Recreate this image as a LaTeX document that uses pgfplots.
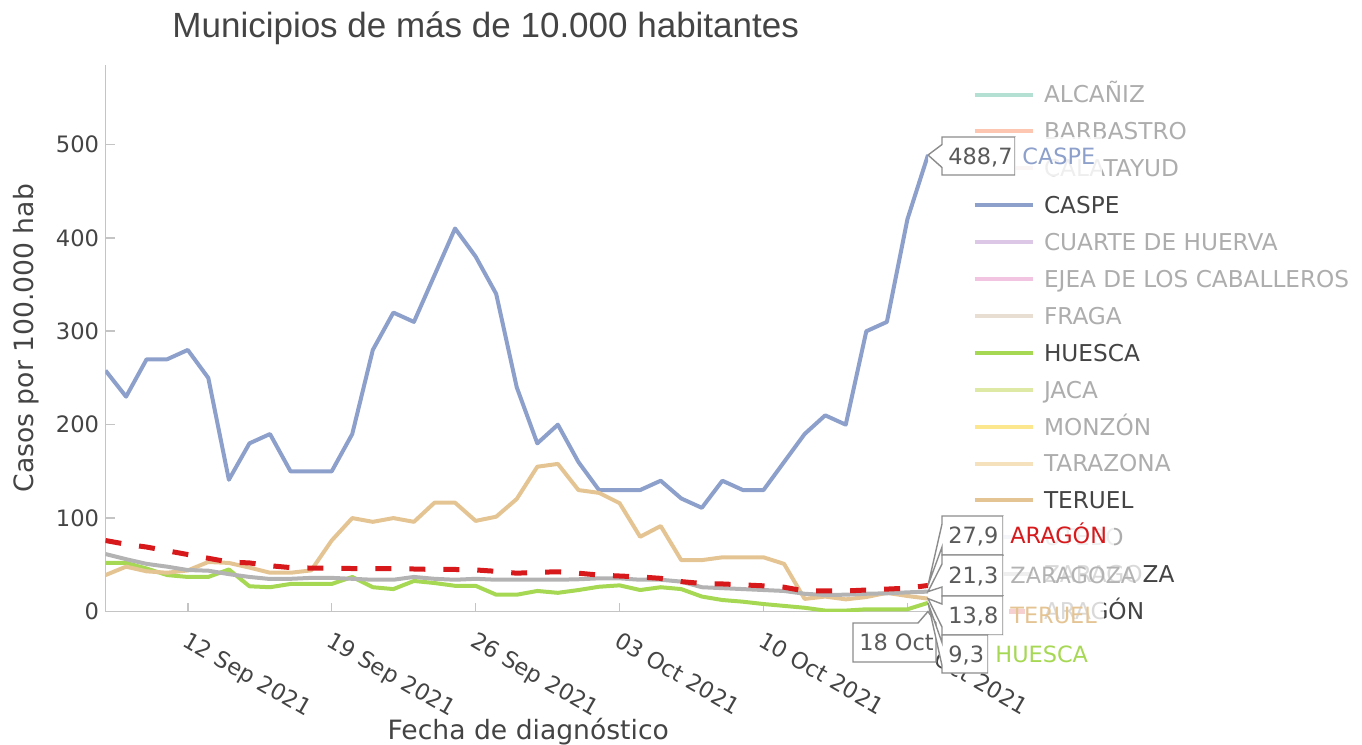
\documentclass[border=0pt]{standalone}
\usepackage{pgfplots}
\pgfplotsset{compat=1.18}
\usepackage{pgfplotstable}
\usepackage{fontspec}
\setmainfont{DejaVu Sans}
\newfontfamily\titlefont{Liberation Sans}
\newcommand\hovfont{\fontsize{11.2}{13}\selectfont}
\definecolor{txt}{HTML}{444444}
\definecolor{faded}{HTML}{ADADAD}
\definecolor{axisgray}{HTML}{C4C4C4}
\definecolor{caspe}{HTML}{8DA0CB}
\definecolor{teruel}{HTML}{E5C494}
\definecolor{huesca}{HTML}{A6D854}
\definecolor{zaragoza}{HTML}{B3B3B3}
\definecolor{aragon}{HTML}{D7191C}
\definecolor{alcaniz}{HTML}{B3E0D2}
\definecolor{barbastro}{HTML}{FDC6B0}
\definecolor{calatayud}{HTML}{E6D6D6}
\definecolor{cuarte}{HTML}{DCC8E6}
\definecolor{ejea}{HTML}{F3C4E1}
\definecolor{fraga}{HTML}{E8DFD2}
\definecolor{jaca}{HTML}{DEE9A6}
\definecolor{monzon}{HTML}{FCE68E}
\definecolor{tarazona}{HTML}{F6E1BD}
\definecolor{utebo}{HTML}{C9D4EA}
\definecolor{boxgray}{HTML}{8C8C8C}
\definecolor{boxtxt}{HTML}{5A5A5A}

% day index: 0 = 08 Sep 2021 ... 40 = 18 Oct 2021
\pgfplotstableread{
d v
0 258
1 230
2 270
3 270
4 280
5 250
6 141
7 180
8 190
9 150
10 150
11 150
12 190
13 280
14 320
15 310
16 360
17 410
18 380
19 340
20 240
21 180
22 200
23 160
24 130
25 130
26 130
27 140
28 121
29 111
30 140
31 130
32 130
33 160
34 190
35 210
36 200
37 300
38 310
39 420
40 488.7
}\caspedata
\pgfplotstableread{
d v
0 39
1 48
2 43
3 41.5
4 44
5 53
6 52
7 47
8 41.5
9 41.5
10 44
11 76
12 100
13 96
14 100
15 96
16 116.5
17 116.5
18 97
19 101.5
20 120.5
21 155
22 158
23 130
24 127
25 116
26 80
27 91.5
28 55
29 55
30 58
31 58
32 58
33 51
34 13.5
35 16
36 13
37 15.5
38 20
39 16.6
40 13.8
}\teruelldata
\pgfplotstableread{
d v
0 52
1 52
2 46
3 39
4 37
5 37
6 45
7 27
8 26
9 29.5
10 29.5
11 29.5
12 37
13 26
14 24
15 32.7
16 30.5
17 27.5
18 27.5
19 18
20 18
21 22
22 20
23 23
24 26.5
25 28
26 23
27 26
28 24
29 16
30 12.3
31 10.5
32 8
33 6
34 4
35 1
36 1
37 2.4
38 2.4
39 2.4
40 9.3
}\huescadata
\pgfplotstableread{
d v
0 61.5
1 56
2 51
3 48
4 44.4
5 43.7
6 40
7 37
8 34.8
9 35
10 36
11 36
12 35
13 34
14 34
15 37
16 35
17 34
18 35
19 34
20 34
21 34
22 34
23 34.5
24 35.5
25 35.5
26 34
27 34
28 32
29 26
30 25
31 24
32 23
33 22
34 19
35 17.7
36 18
37 19
38 19.5
39 20.5
40 21.3
}\zaragozadata
\pgfplotstableread{
d v
0 76
1 72
2 69
3 65
4 61
5 57
6 53
7 52
8 49
9 47
10 46.5
11 46.5
12 46
13 46
14 46
15 45.5
16 45
17 45
18 44.5
19 43
20 41
21 42
22 42.5
23 41
24 39
25 38
26 37
27 35.5
28 32
29 30
30 29.5
31 28.5
32 27.5
33 26
34 22
35 22
36 22
37 23
38 24
39 25
40 27.9
}\aragondata

\begin{document}
\begin{tikzpicture}
\begin{axis}[
  at={(52.75pt,-305.75pt)}, anchor=south west,
  scale only axis, width=411.25pt, height=273.25pt,
  xmin=0, xmax=40, ymin=0, ymax=585,
  enlargelimits=false,
  axis lines*=left,
  axis line style={axisgray, line width=0.8pt, -},
  tick align=inside, major tick length=4.5pt,
  tick style={axisgray, line width=0.8pt},
  xtick={4,11,18,25,32,39},
  xticklabels={12 Sep 2021,19 Sep 2021,26 Sep 2021,03 Oct 2021,10 Oct 2021,17 Oct 2021},
  ytick={0,100,200,300,400,500},
  /pgf/number format/assume math mode=true,
  tick label style={font=\fontsize{11.3}{13}\selectfont, text=txt},
  yticklabel style={anchor=east, inner sep=0pt, xshift=-3pt},
  xticklabel style={inner sep=0pt, xshift=1pt, yshift=-9.5pt, rotate=-30, anchor=north west},
  xlabel={Fecha de diagnóstico},
  xlabel style={at={(axis description cs:0.514,-0.2349)}, anchor=base, font=\fontsize{13.3}{15}\selectfont, text=txt, inner sep=0pt},
  ylabel={Casos por 100.000 hab},
  ylabel style={at={(axis description cs:-0.0881,0.5)}, anchor=base, font=\fontsize{13.3}{15}\selectfont, text=txt, inner sep=0pt},
  title={Municipios de más de 10.000 habitantes},
  title style={at={(axis description cs:0.0809,1.0503)}, anchor=base west, yshift=-6pt, font=\titlefont\fontsize{17.5}{20}\selectfont, text=txt, inner sep=0pt},
  legend cell align=left,
  legend style={at={(rel axis cs:1.0535,0.9798)}, anchor=north west, draw=none, fill=none,
    inner sep=0pt, outer sep=0pt, column sep=4.5pt, row sep=0pt,
    font=\fontsize{11.6}{13}\selectfont,
    nodes={inner sep=0pt, text height=13.45pt, text depth=5pt}},
  legend image code/.code={\draw[#1] (0pt,0pt) -- (29pt,0pt);},
  line join=round,
]
\addlegendimage{alcaniz, line width=2pt}
\addlegendentry{\textcolor{faded}{ALCAÑIZ}}
\addlegendimage{barbastro, line width=2pt}
\addlegendentry{\textcolor{faded}{BARBASTRO}}
\addlegendimage{calatayud, line width=2pt}
\addlegendentry{\textcolor{faded}{CALATAYUD}}
\addplot[caspe, line width=2pt] table[x=d, y=v] {\caspedata};
\addlegendentry{\textcolor{txt}{CASPE}}
\addlegendimage{cuarte, line width=2pt}
\addlegendentry{\textcolor{faded}{CUARTE DE HUERVA}}
\addlegendimage{ejea, line width=2pt}
\addlegendentry{\textcolor{faded}{EJEA DE LOS CABALLEROS}}
\addlegendimage{fraga, line width=2pt}
\addlegendentry{\textcolor{faded}{FRAGA}}
\addplot[huesca, line width=2pt] table[x=d, y=v] {\huescadata};
\addlegendentry{\textcolor{txt}{HUESCA}}
\addlegendimage{jaca, line width=2pt}
\addlegendentry{\textcolor{faded}{JACA}}
\addlegendimage{monzon, line width=2pt}
\addlegendentry{\textcolor{faded}{MONZÓN}}
\addlegendimage{tarazona, line width=2pt}
\addlegendentry{\textcolor{faded}{TARAZONA}}
\addplot[teruel, line width=2pt] table[x=d, y=v] {\teruelldata};
\addlegendentry{\textcolor{txt}{TERUEL}}
\addlegendimage{utebo, line width=2pt}
\addlegendentry{\textcolor{faded}{UTEBO}}
\addplot[zaragoza, line width=2pt] table[x=d, y=v] {\zaragozadata};
\addlegendentry{\textcolor{txt}{ZARAGOZA}}
\addplot[aragon, line width=2.5pt, dash pattern=on 8pt off 9pt] table[x=d, y=v] {\aragondata};
\addlegendentry{\textcolor{txt}{ARAGÓN}}
\end{axis}
\begin{scope}[x=0.5pt,y=-0.5pt]
\tikzset{
  hbox/.style={draw=boxgray, fill=white, line width=0.7pt, line join=miter},
  hval/.style={anchor=west, inner sep=0pt, text height=8.2pt, text depth=0pt, text=boxtxt, font=\hovfont},
  hname/.style={anchor=west, fill=white, fill opacity=0.8, text opacity=1, inner xsep=3.5pt, inner ysep=0pt, minimum height=19.5pt, text height=8.2pt, text depth=0pt, font=\hovfont},
}
% x hover label
\draw[hbox] (928,611.5) -- (936,623) -- (936,662) -- (853,662) -- (853,623) -- (918,623) -- cycle;
\node[hval] at (859,642.5) {18 Oct};
% CASPE
\draw[hbox] (928,155) -- (942,144.5) -- (942,137) -- (1015,137) -- (1015,175) -- (942,175) -- (942,167.5) -- cycle;
\node[hval] at (948,156) {488,7};
\node[hname, text=caspe] at (1015,156) {CASPE};
% ARAGON
\draw[hbox] (928,585.4) -- (942,524) -- (942,516) -- (1003,516) -- (1003,555) -- (942,555) -- (942,547) -- cycle;
\node[hval] at (948,535.5) {27,9};
\node[hname, text=aragon] at (1003,535.5) {ARAGÓN};
% ZARAGOZA
\draw[hbox] (928,591.6) -- (942,564) -- (942,555) -- (1003,555) -- (1003,596) -- (942,596) -- (942,587) -- cycle;
\node[hval] at (948,575.5) {21,3};
\node[hname, text=zaragoza] at (1003,575.5) {ZARAGOZA};
% TERUEL
\draw[hbox] (928,598.6) -- (942,604) -- (942,596) -- (1003,596) -- (1003,635) -- (942,635) -- (942,627) -- cycle;
\node[hval] at (948,615.5) {13,8};
\node[hname, text=teruel] at (1003,615.5) {TERUEL};
% HUESCA
\draw[hbox] (928,602.8) -- (942,642.5) -- (942,635) -- (988,635) -- (988,673) -- (942,673) -- (942,665.5) -- cycle;
\node[hval] at (948,654) {9,3};
\node[hname, text=huesca] at (988,654) {HUESCA};
\end{scope}
\pgfresetboundingbox
\path[use as bounding box] (0,0) rectangle (681pt,-372.5pt);
\end{tikzpicture}
\end{document}
